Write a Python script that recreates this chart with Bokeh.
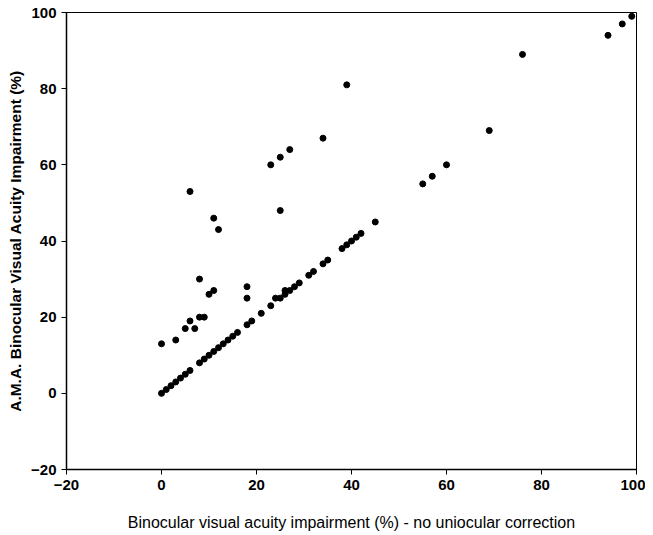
from bokeh.plotting import figure
from bokeh.models import Range1d, FixedTicker, ColumnDataSource
from bokeh.embed import file_html
from bokeh.resources import INLINE

# Binocular visual acuity impairment (%) - no uniocular correction
x_vals = [0, 1, 2, 3, 4, 5, 6, 8, 9, 10, 11, 12, 13, 14, 15, 16, 18, 19, 21, 23,
          24, 25, 26, 26, 27, 28, 29, 31, 32, 34, 35, 38, 39, 40, 41, 42, 45,
          55, 57, 60, 69, 94, 97, 99,
          0, 3, 5, 7, 6, 8, 9, 8, 10, 11, 18, 18, 11, 12, 6, 25, 23, 25, 27, 34, 39, 76]
# A.M.A. Binocular Visual Acuity Impairment (%)
y_vals = [0, 1, 2, 3, 4, 5, 6, 8, 9, 10, 11, 12, 13, 14, 15, 16, 18, 19, 21, 23,
          25, 25, 26, 27, 27, 28, 29, 31, 32, 34, 35, 38, 39, 40, 41, 42, 45,
          55, 57, 60, 69, 94, 97, 99,
          13, 14, 17, 17, 19, 20, 20, 30, 26, 27, 25, 28, 46, 43, 53, 48, 60, 62, 64, 67, 81, 89]
ticks = [-20, 0, 20, 40, 60, 80, 100]

src = ColumnDataSource(dict(x=x_vals, y=y_vals))

p = figure(width=645, height=533, output_backend="svg", toolbar_location=None,
           x_range=Range1d(-20, 100), y_range=Range1d(-20, 100))
p.min_border_left = 66
p.min_border_right = 9
p.min_border_top = 12
p.min_border_bottom = 63

p.scatter("x", "y", source=src, size=6, color="black")

p.grid.visible = False
p.outline_line_color = "black"
p.outline_line_width = 1

for ax in (p.xaxis[0], p.yaxis[0]):
    ax.ticker = FixedTicker(ticks=ticks)
    ax.minor_tick_line_color = None
    ax.major_tick_in = 0
    ax.major_tick_out = 5
    ax.axis_line_color = "black"
    ax.axis_line_width = 1.5
    ax.major_tick_line_color = "black"
    ax.major_label_text_font = "Liberation Sans"
    ax.major_label_text_font_style = "bold"
    ax.major_label_text_font_size = "15px"
    ax.major_label_text_color = "black"
    ax.axis_label_text_font = "Liberation Sans"
    ax.axis_label_text_color = "black"

p.xaxis.axis_label = "Binocular visual acuity impairment (%) - no uniocular correction"
p.xaxis.axis_label_text_font_style = "normal"
p.xaxis.axis_label_text_font_size = "16px"
p.xaxis.axis_label_standoff = 21
p.yaxis.axis_label = "A.M.A. Binocular Visual Acuity Impairment (%)"
p.yaxis.axis_label_text_font_style = "bold"
p.yaxis.axis_label_text_font_size = "15.5px"
p.yaxis.axis_label_standoff = 4

open("out.html", "w").write(file_html(p, INLINE))
